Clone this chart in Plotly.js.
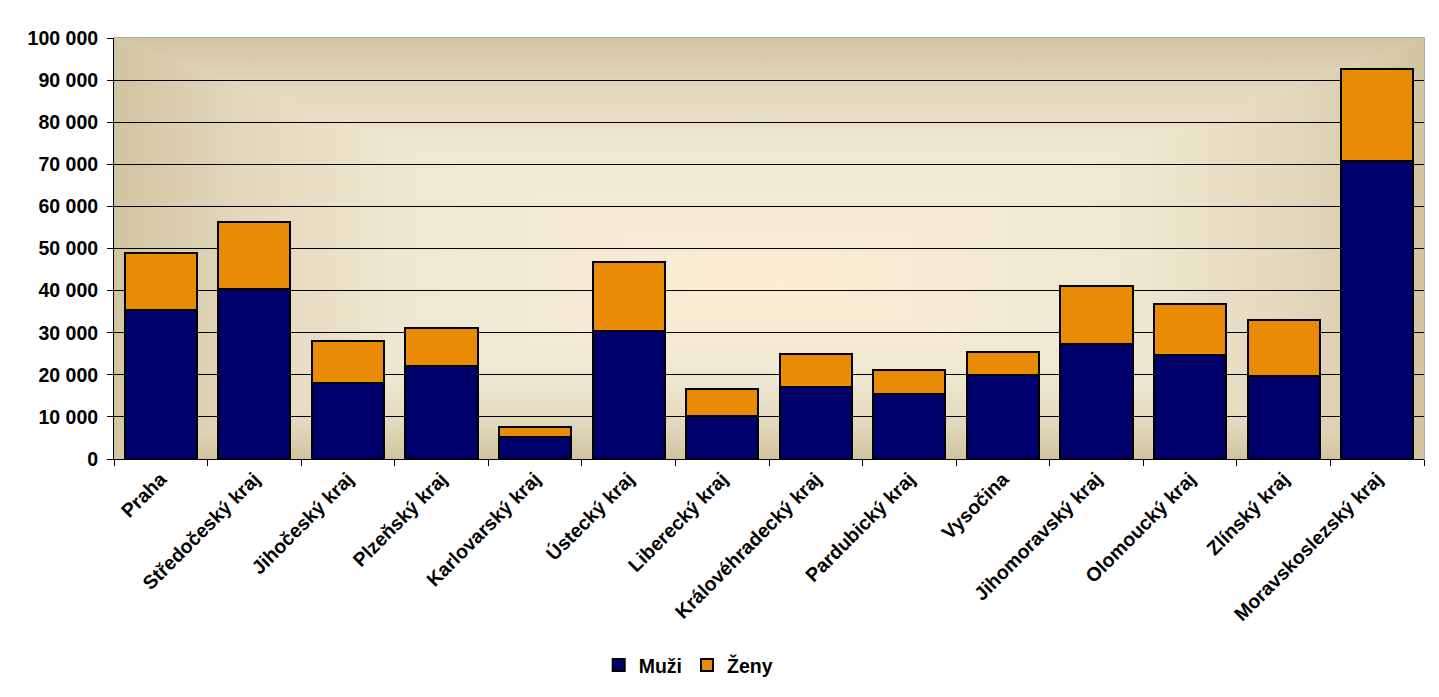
<!DOCTYPE html>
<html>
<head>
<meta charset="utf-8">
<script src="https://cdn.plot.ly/plotly-3.0.1.min.js"></script>
<style>
html,body{margin:0;padding:0;background:#fff;}
#chart{width:1439px;height:697px;}
</style>
</head>
<body>
<div id="chart"></div>
<script>
const categories = ["Praha","Středočeský kraj","Jihočeský kraj","Plzeňský kraj","Karlovarský kraj","Ústecký kraj","Liberecký kraj","Královéhradecký kraj","Pardubický kraj","Vysočina","Jihomoravský kraj","Olomoucký kraj","Zlínský kraj","Moravskoslezský kraj"];
const muzi = [35500, 40500, 18100, 22200, 5300, 30400, 10300, 17000, 15500, 20000, 27400, 24800, 19800, 70900];
const zeny = [13500, 15900, 10000, 8900, 2400, 16400, 6400, 8000, 5700, 5500, 13800, 12100, 13300, 21800];
const seriesNames = ["Muži", "Ženy"];

// rectangular "from centre" background gradient, like the spreadsheet's plot area
const W = 1310, H = 421, CX = 655, CY = 245;
function stops(){
  return '<stop offset="0" stop-color="#D2C4A0"/>' +
         '<stop offset="0.2" stop-color="#E2D8BD"/>' +
         '<stop offset="0.45" stop-color="#EFE7D0"/>' +
         '<stop offset="0.75" stop-color="#F5EBD4"/>' +
         '<stop offset="1" stop-color="#FCEDD3"/>';
}
const bgSvg = '<svg xmlns="http://www.w3.org/2000/svg" width="'+W+'" height="'+H+'" viewBox="0 0 '+W+' '+H+'" preserveAspectRatio="none"><defs>' +
  '<linearGradient id="t" gradientUnits="userSpaceOnUse" x1="0" y1="0" x2="0" y2="'+CY+'">'+stops()+'</linearGradient>' +
  '<linearGradient id="b" gradientUnits="userSpaceOnUse" x1="0" y1="'+H+'" x2="0" y2="'+CY+'">'+stops()+'</linearGradient>' +
  '<linearGradient id="l" gradientUnits="userSpaceOnUse" x1="0" y1="0" x2="'+CX+'" y2="0">'+stops()+'</linearGradient>' +
  '<linearGradient id="r" gradientUnits="userSpaceOnUse" x1="'+W+'" y1="0" x2="'+CX+'" y2="0">'+stops()+'</linearGradient>' +
  '</defs>' +
  '<rect width="'+W+'" height="'+H+'" fill="#EFE7D0"/>' +
  '<polygon points="0,0 '+W+',0 '+CX+','+CY+'" fill="url(#t)"/>' +
  '<polygon points="0,'+H+' '+W+','+H+' '+CX+','+CY+'" fill="url(#b)"/>' +
  '<polygon points="0,0 0,'+H+' '+CX+','+CY+'" fill="url(#l)"/>' +
  '<polygon points="'+W+',0 '+W+','+H+' '+CX+','+CY+'" fill="url(#r)"/>' +
  '</svg>';
const bgUri = 'data:image/svg+xml;charset=utf-8,' + encodeURIComponent(bgSvg);

const fam = 'Liberation Sans, Arial, sans-serif';
const boldFont = {family: fam, size: 19.5, color: '#000', weight: 'bold'};

const data = [
  {type: 'bar', name: seriesNames[0], x: categories, y: muzi,
   marker: {color: '#00006C', line: {color: '#000', width: 2}}},
  {type: 'bar', name: seriesNames[1], x: categories, y: zeny,
   marker: {color: '#EA8B06', line: {color: '#000', width: 2}}}
];

const layout = {
  width: 1439, height: 697,
  margin: {l: 114, r: 15, t: 38, b: 238},
  paper_bgcolor: '#fff',
  plot_bgcolor: 'rgba(0,0,0,0)',
  barmode: 'stack',
  bargap: 0.23,
  separators: ', ',
  font: {family: fam, size: 18, color: '#000'},
  showlegend: true,
  legend: {orientation: 'h', x: 0.37, xanchor: 'left', y: -0.49, yanchor: 'middle',
           font: boldFont, itemwidth: 30, traceorder: 'normal', bgcolor: 'rgba(0,0,0,0)'},
  xaxis: {
    type: 'category', tickangle: -45, ticks: 'outside', ticklen: 6, tickcolor: '#000',
    tickson: 'boundaries', showline: true, linecolor: '#000', linewidth: 1,
    showgrid: false, automargin: false, tickfont: boldFont
  },
  yaxis: {
    range: [0, 100000], dtick: 10000, tickformat: ',d', ticks: 'outside', ticklen: 6,
    tickcolor: '#000', showline: true, linecolor: '#000', linewidth: 1, ticklabelstandoff: 5,
    showgrid: true, gridcolor: '#000', gridwidth: 1, zeroline: false, automargin: false,
    tickfont: boldFont
  },
  images: [{source: bgUri, xref: 'x domain', yref: 'y domain', x: 0, y: 1, sizex: 1, sizey: 1,
            sizing: 'stretch', xanchor: 'left', yanchor: 'top', layer: 'below'}],
  shapes: [{type: 'rect', xref: 'x domain', yref: 'y domain', x0: 0, x1: 1, y0: 0, y1: 1,
            line: {color: '#8C8C8C', width: 1.5}, layer: 'below'}]
};

Plotly.newPlot('chart', data, layout, {displayModeBar: false, staticPlot: true});
</script>
</body>
</html>
